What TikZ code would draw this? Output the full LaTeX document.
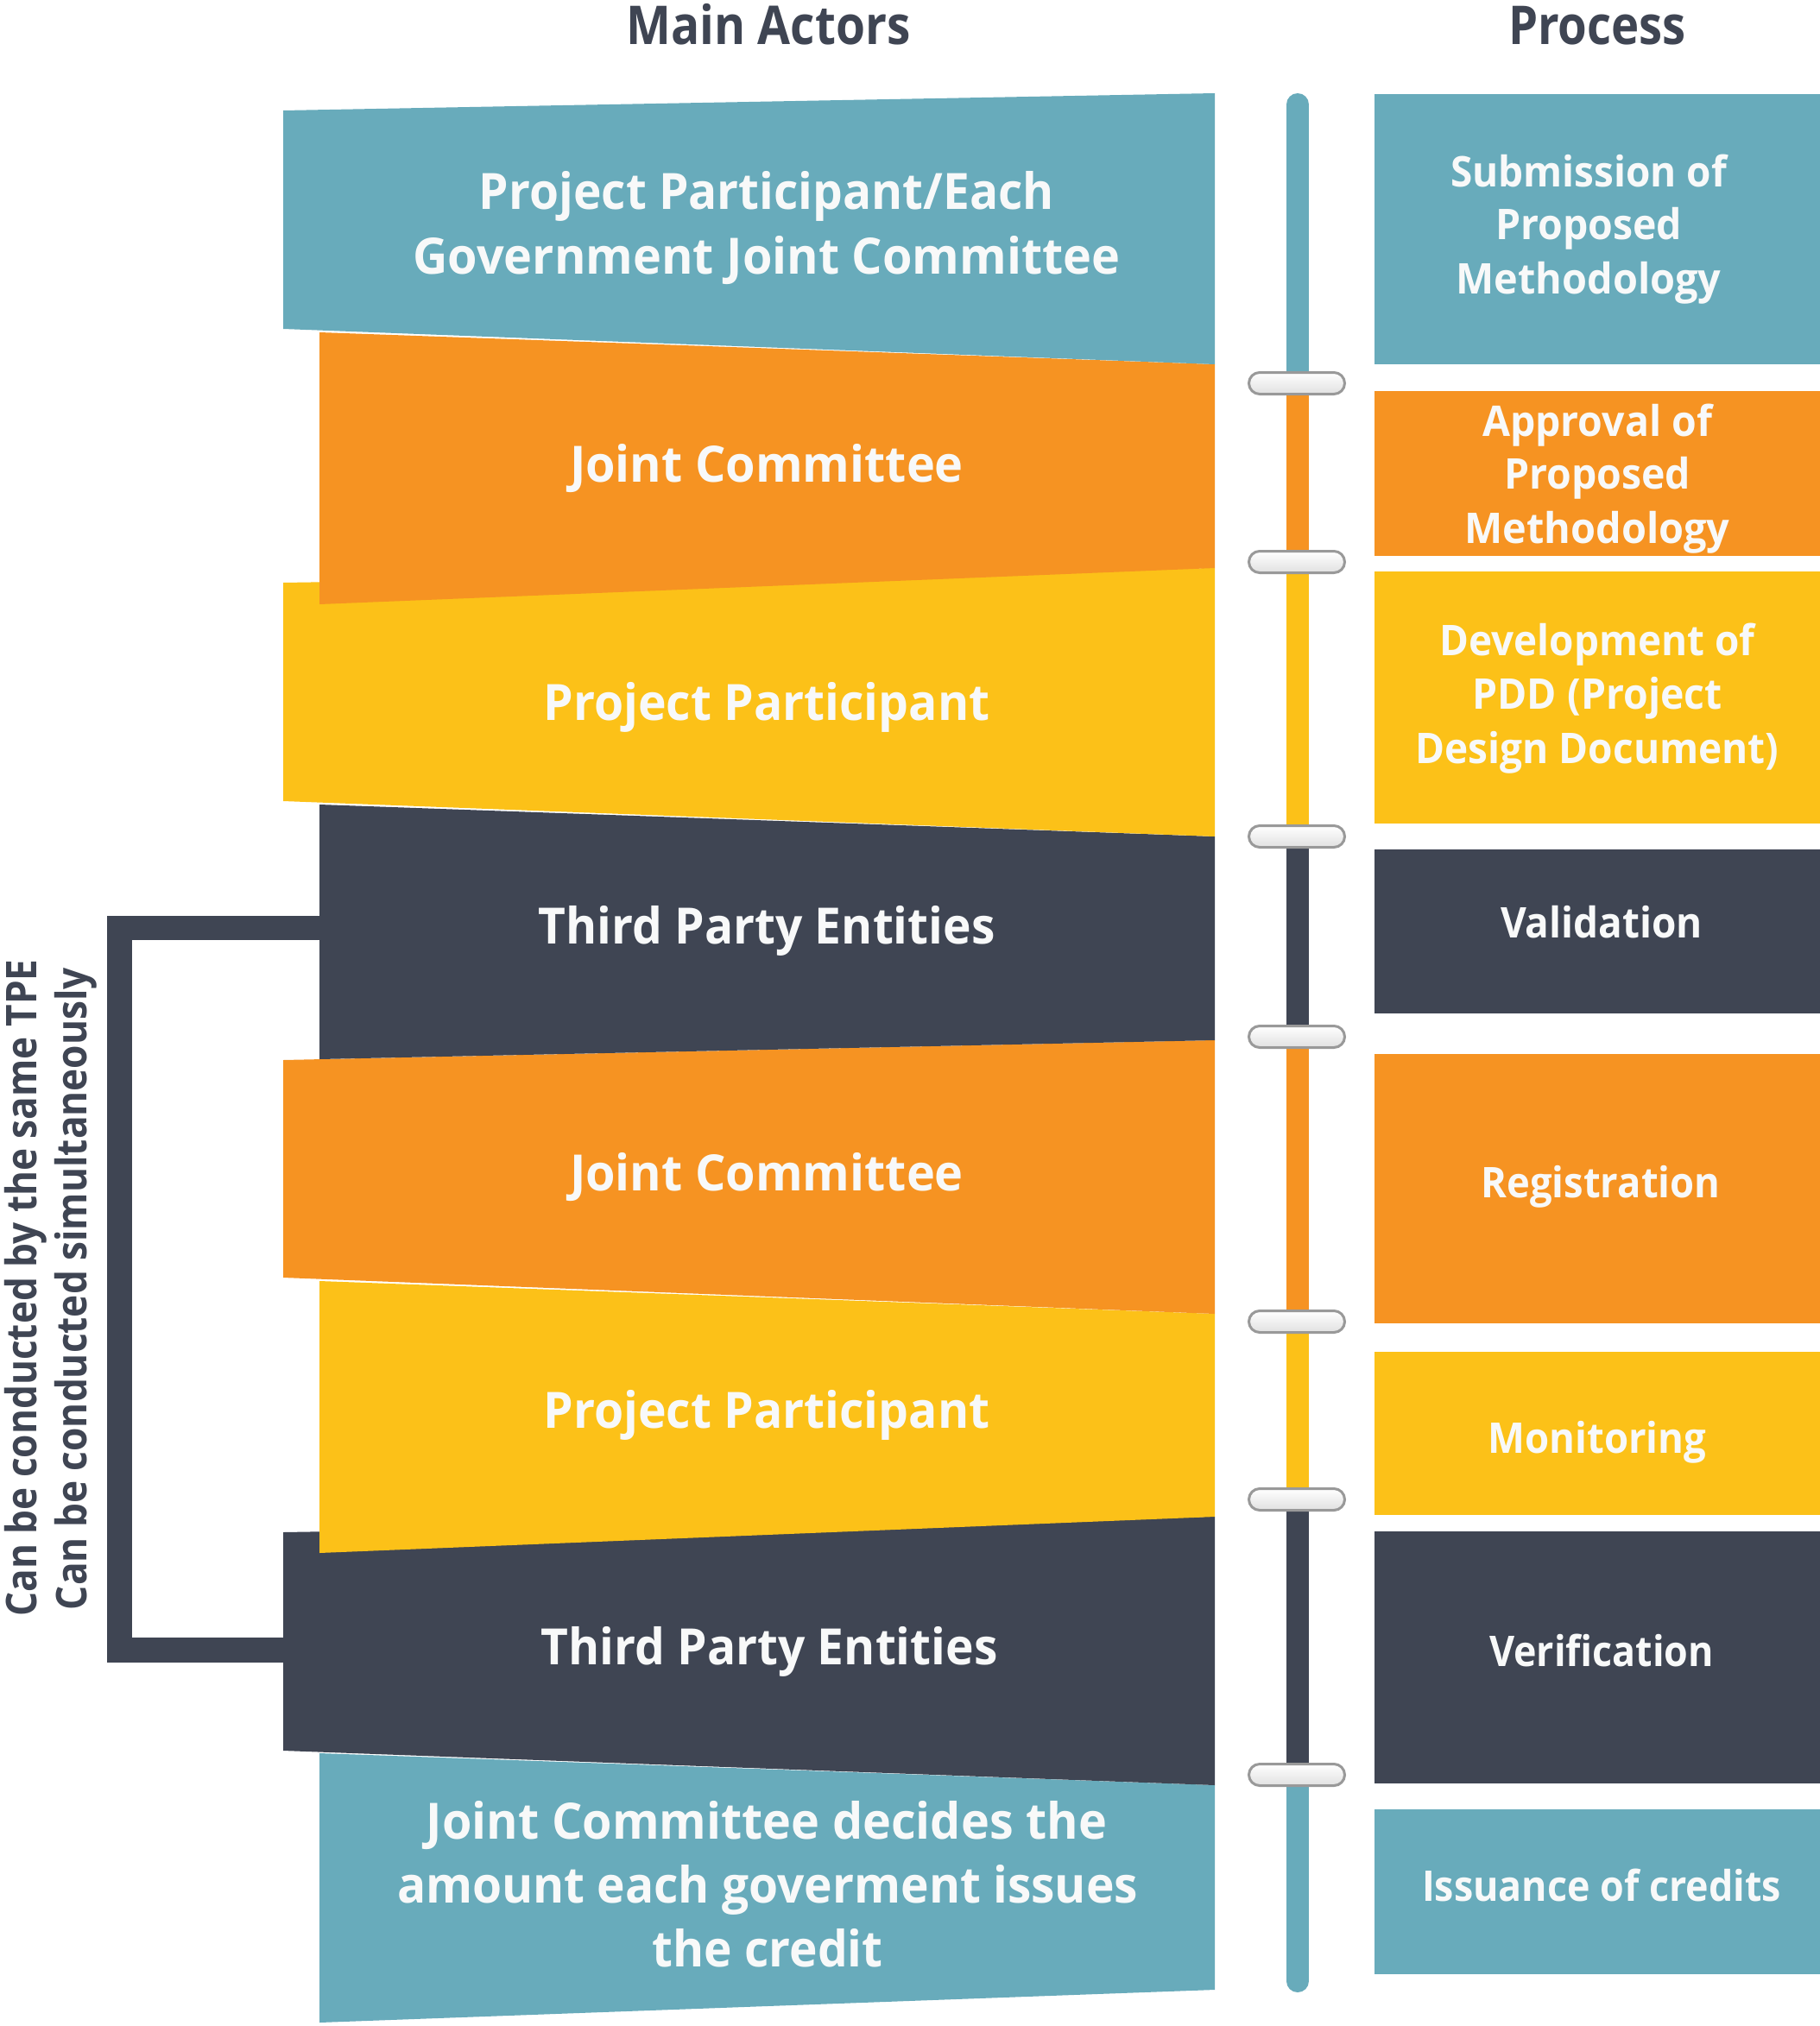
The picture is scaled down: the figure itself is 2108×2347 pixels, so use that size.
\documentclass[tikz,border=0pt]{standalone}
\usepackage{fontspec}
\setmainfont{Open Sans}
\usepackage{graphicx}
\definecolor{cteal}{HTML}{68ABBB}
\definecolor{corange}{HTML}{F69322}
\definecolor{cyellow}{HTML}{FCC118}
\definecolor{cdark}{HTML}{3F4553}
\definecolor{ctext}{HTML}{F8F9F9}
\newcommand\fitw[2]{\resizebox{#1}{\height}{#2}}
\begin{document}
\begin{tikzpicture}[x=1pt,y=-1pt,
  ltxt/.style={anchor=base, inner sep=0pt, text=ctext, font=\fontsize{58}{70}\selectfont\bfseries},
  rtxt/.style={anchor=base, inner sep=0pt, text=ctext, font=\fontsize{49}{60}\selectfont\bfseries},
  htxt/.style={anchor=base, inner sep=0pt, text=cdark, font=\fontsize{62}{74}\selectfont\bfseries},
  stxt/.style={anchor=base, inner sep=0pt, text=cdark, rotate=90, font=\fontsize{49}{60}\selectfont\bfseries},
  pill/.style={draw=black!40, line width=3pt, rounded corners=12.5pt, top color=white, bottom color=black!12},
  bracket/.style={draw=cdark, line width=28.5pt, line join=miter},
  barline/.style={draw=cteal, line width=26pt, line cap=round}
]
\useasboundingbox (0,0) rectangle (2108,2347);
\fill[white] (0,0) rectangle (2108,2347);

% headers
\node[htxt] (h1) at (890,52) {\fitw{329pt}{Main Actors}};
\node[htxt] (h2) at (1850,52) {\fitw{206pt}{Process}};

% bracket
\coordinate (b4l) at (372,1075);
\coordinate (b7l) at (330,1911.5);
\draw[bracket] (b4l) -- (138.5,1075) |- (b7l);

% bands (bottom to top drawing order)
\fill[cteal]   (370,2031) -- (1407,2068) -- (1407,2305) -- (370,2343) -- cycle;
\fill[cdark]   (328,1775) -- (1407,1757) -- (1407,2068) -- (328,2028) -- cycle;
\fill[cyellow] (370,1484) -- (1407,1522) -- (1407,1757) -- (370,1799) -- cycle;
\fill[corange] (328,1228) -- (1407,1205) -- (1407,1522) -- (328,1480) -- cycle;
\fill[cdark]   (370,932)  -- (1407,969)  -- (1407,1205) -- (370,1227) -- cycle;
\fill[cyellow] (328,675)  -- (1407,658)  -- (1407,969)  -- (328,928)  -- cycle;
\fill[corange] (370,385)  -- (1407,422)  -- (1407,658)  -- (370,700)  -- cycle;
\fill[cteal]   (328,128)  -- (1407,108)  -- (1407,422)  -- (328,381)  -- cycle;

% band texts
\node[ltxt] (l1a) at (888,242) {\fitw{666pt}{Project Participant/Each}};
\node[ltxt] (l1b) at (888,317) {\fitw{819pt}{Government Joint Committee}};
\node[ltxt] (l2) at (888,558) {\fitw{456pt}{Joint Committee}};
\node[ltxt] (l3) at (888,834) {\fitw{517pt}{Project Participant}};
\node[ltxt] (l4) at (888,1093) {\fitw{529pt}{Third Party Entities}};
\node[ltxt] (l5) at (888,1379) {\fitw{456pt}{Joint Committee}};
\node[ltxt] (l6) at (888,1654) {\fitw{517pt}{Project Participant}};
\node[ltxt] (l7) at (891,1928) {\fitw{529pt}{Third Party Entities}};
\node[ltxt] (l8a) at (888,2130) {\fitw{788pt}{Joint Committee decides the}};
\node[ltxt] (l8b) at (889,2204) {\fitw{858pt}{amount each goverment issues}};
\node[ltxt] (l8c) at (889,2278) {\fitw{267pt}{the credit}};

% side notes
\node[stxt] (s1) at (42,1492) {\fitw{761pt}{Can be conducted by the same TPE}};
\node[stxt] (s2) at (100,1493) {\fitw{744pt}{Can be conducted simultaneously}};

% timeline bar
\draw[barline] (1503,121) -- (1503,2295);
\fill[corange] (1490,444)  rectangle (1516,651);
\fill[cyellow] (1490,651)  rectangle (1516,969);
\fill[cdark]   (1490,969)  rectangle (1516,1201);
\fill[corange] (1490,1201) rectangle (1516,1531);
\fill[cyellow] (1490,1531) rectangle (1516,1737);
\fill[cdark]   (1490,1737) rectangle (1516,2056);
\foreach \py in {444,651,969,1201,1531,1737,2056}{
  \path[pill] (1446.5,\py-12.5) rectangle (1557.5,\py+12.5);
}

% process boxes
\fill[cteal]   (1592,109)  rectangle (2108,422);
\fill[corange] (1592,453)  rectangle (2108,644);
\fill[cyellow] (1592,662)  rectangle (2108,954);
\fill[cdark]   (1592,984)  rectangle (2108,1174);
\fill[corange] (1592,1221) rectangle (2108,1533);
\fill[cyellow] (1592,1566) rectangle (2108,1755);
\fill[cdark]   (1592,1774) rectangle (2108,2066);
\fill[cteal]   (1592,2096) rectangle (2108,2287);

% process texts
\node[rtxt] (r1a) at (1840,216.5) {\fitw{320pt}{Submission of}};
\node[rtxt] (r1b) at (1840,277.5) {\fitw{216pt}{Proposed}};
\node[rtxt] (r1c) at (1840,340.5) {\fitw{307pt}{Methodology}};
\node[rtxt] (r2a) at (1850,505.5) {\fitw{266pt}{Approval of}};
\node[rtxt] (r2b) at (1850,566.5) {\fitw{216pt}{Proposed}};
\node[rtxt] (r2c) at (1850,629.5) {\fitw{307pt}{Methodology}};
\node[rtxt] (r3a) at (1850,759.5) {\fitw{365pt}{Development of}};
\node[rtxt] (r3b) at (1850,821.5) {\fitw{289pt}{PDD (Project}};
\node[rtxt] (r3c) at (1850,884.5) {\fitw{421pt}{Design Document)}};
\node[rtxt] (r4) at (1855,1086.5) {\fitw{234pt}{Validation}};
\node[rtxt] (r5) at (1854,1387.5) {\fitw{277pt}{Registration}};
\node[rtxt] (r6) at (1850,1683.5) {\fitw{253pt}{Monitoring}};
\node[rtxt] (r7) at (1855,1930.5) {\fitw{260pt}{Verification}};
\node[rtxt] (r8) at (1855,2202) {\fitw{416pt}{Issuance of credits}};
\end{tikzpicture}
\end{document}
